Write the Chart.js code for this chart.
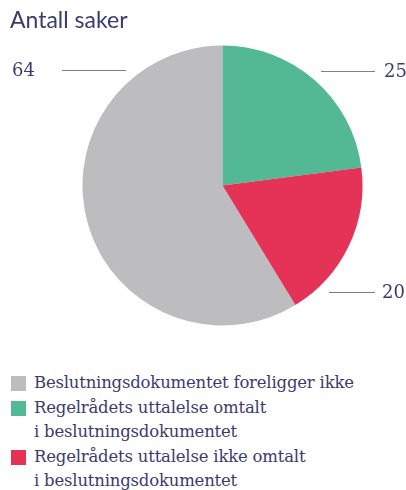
<!DOCTYPE html>
<html>
<head>
<meta charset="utf-8">
<script src="https://cdn.jsdelivr.net/npm/chart.js@4"></script>
<style>
  html, body { margin: 0; padding: 0; background: #fff; }
  body { width: 406px; height: 490px; position: relative; overflow: hidden; }
  #title {
    position: absolute; left: 10px; top: 5px;
    font-family: "Lato", sans-serif; font-size: 23px; color: #3b3b6d;
  }
  #wrap { position: absolute; left: 0; top: 0; width: 406px; height: 340px; }
  #legend {
    position: absolute; left: 11px; top: 371px; width: 395px;
    font-family: "DejaVu Serif", serif; font-size: 16.5px; color: #3b3b6d;
    line-height: 24.5px; letter-spacing: -0.2px;
  }
  .item { display: flex; align-items: flex-start; }
  .box { width: 15px; height: 15px; flex: none; margin-top: 5px; margin-right: 8px; }
</style>
</head>
<body>
<div id="wrap"><canvas id="pie" width="406" height="340"></canvas></div>
<div id="title">Antall saker</div>
<div id="legend"></div>
<script>
/* ========= Data ========= */
const categories = [
  "Beslutningsdokumentet foreligger ikke",
  "Regelrådets uttalelse omtalt\ni beslutningsdokumentet",
  "Regelrådets uttalelse ikke omtalt\ni beslutningsdokumentet"
];
const values = [64, 25, 20];
const colors = ["#bdbdbf", "#52b994", "#e53357"];

/* label placement for the value callouts (index -> y, line start/end, text x) */
const callouts = [
  { y: 70,  x1: 62,  x2: 126, tx: 12 },
  { y: 71,  x1: 321, x2: 375, tx: 384 },
  { y: 292, x1: 329, x2: 375, tx: 382 }
];

const total = values.reduce((s, v) => s + v, 0);

/* ========= Callout plugin ========= */
const calloutPlugin = {
  id: "callouts",
  afterDatasetsDraw(chart) {
    const ctx = chart.ctx;
    const meta = chart.getDatasetMeta(0);
    ctx.save();
    meta.data.forEach((arc, i) => {
      const c = callouts[i];
      if (!c) return;
      ctx.strokeStyle = "#7b7ba3";
      ctx.lineWidth = 1;
      ctx.beginPath();
      ctx.moveTo(c.x1, c.y + 0.5);
      ctx.lineTo(c.x2, c.y + 0.5);
      ctx.stroke();
      ctx.fillStyle = "#3b3b6d";
      ctx.font = "18px 'DejaVu Serif', serif";
      ctx.textBaseline = "middle";
      ctx.textAlign = "left";
      ctx.fillText(String(values[i]), c.tx, c.y + 1);
    });
    ctx.restore();
  }
};

/* ========= Chart ========= */
new Chart(document.getElementById("pie").getContext("2d"), {
  type: "pie",
  data: {
    labels: categories,
    datasets: [{ data: values, backgroundColor: colors, borderWidth: 0 }]
  },
  options: {
    responsive: false,
    animation: false,
    rotation: -(values[0] / total) * 360,
    layout: { padding: { left: 82.5, right: 43.5, top: 45.5, bottom: 14.5 } },
    plugins: { legend: { display: false }, tooltip: { enabled: false } }
  },
  plugins: [calloutPlugin]
});

/* ========= Legend ========= */
const legendEl = document.getElementById("legend");
categories.forEach((label, i) => {
  const row = document.createElement("div");
  row.className = "item";
  row.innerHTML = `<div class="box" style="background:${colors[i]}"></div><div>${label.replace("\n", "<br>")}</div>`;
  legendEl.appendChild(row);
});
</script>
</body>
</html>
